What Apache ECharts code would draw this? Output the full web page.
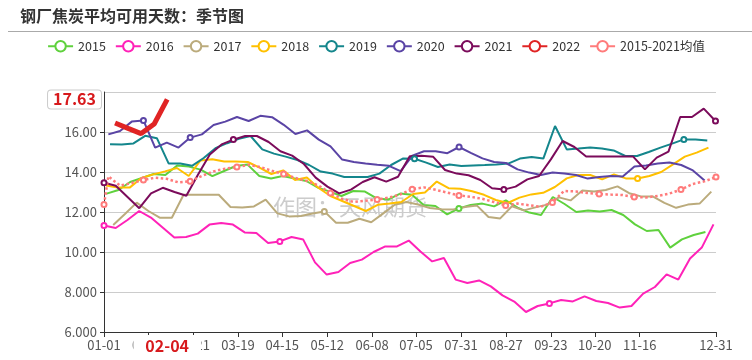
<!DOCTYPE html>
<html><head><meta charset="utf-8">
<script src="https://cdn.jsdelivr.net/npm/echarts@6/dist/echarts.min.js"></script>
<style>html,body{margin:0;padding:0;background:#fff}#c{width:752px;height:360px}</style>
</head><body><div id="c"></div>
<script>
// ---- axis ticks (day-of-year positions and their labels) ----
const tickDays = [0, 26.6, 53.2, 79.9, 106.3, 133.1, 159.9, 186.1, 212.9, 239.7, 266.5, 292.7, 319.5, 365];
const tickLabels = ['01-01','01-28','02-21','03-19','04-15','05-12','06-08','07-05','07-31','08-27','09-23','10-20','11-16','12-31'];

const names = ['2015','2016','2017','2018','2019','2020','2021','2022','2015-2021均值'];

// ---- weekly values per year, with first / last day-of-year of each series ----
const v2015 = [12.92,13.1,13.5,13.7,13.9,13.85,14.33,14.27,14.12,13.79,14.05,14.3,14.37,13.8,13.68,13.8,13.68,13.55,13.22,13.02,12.8,13.05,13.02,12.68,12.63,12.92,12.86,12.35,12.3,11.88,12.18,12.35,12.42,12.28,12.58,12.22,11.97,11.85,12.75,12.4,12.0,12.08,12.02,12.1,11.85,11.38,11.05,11.1,10.22,10.63,10.85,11.0];
const d2015 = [1.6, 358.7];
const v2016 = [11.32,11.2,11.6,12.05,11.72,11.22,10.72,10.75,10.92,11.37,11.45,11.37,10.98,10.95,10.45,10.53,10.75,10.62,9.48,8.87,9.0,9.45,9.62,10.0,10.28,10.28,10.57,10.03,9.53,9.7,8.62,8.45,8.58,8.28,7.83,7.52,7.0,7.3,7.43,7.6,7.53,7.78,7.55,7.45,7.22,7.3,7.92,8.25,8.88,8.62,9.68,10.22,11.38];
const d2016 = [0, 363.5];
const v2017 = [11.35,11.9,12.47,12.05,11.71,11.71,12.86,12.86,12.86,12.86,12.25,12.22,12.28,12.62,11.93,11.78,11.8,11.93,12.03,11.46,11.46,11.66,11.49,11.92,12.36,12.5,12.37,12.2,12.14,12.12,12.25,12.33,11.75,11.68,12.29,12.08,12.23,12.37,12.73,12.58,13.07,13.03,13.1,13.28,12.94,12.78,12.78,12.46,12.21,12.37,12.42,13.02];
const d2017 = [5.5, 362.2];
const v2018 = [13.32,13.23,13.22,13.7,13.88,14.03,14.2,13.8,14.58,14.64,14.52,14.52,14.5,14.22,13.9,14.08,13.6,13.73,13.2,12.8,12.55,12.3,12.05,12.36,12.42,12.5,12.9,12.97,13.52,13.19,13.16,13.04,12.86,12.6,12.45,12.72,12.88,12.96,13.25,13.68,13.85,13.85,13.63,13.88,13.68,13.68,13.8,14.0,14.38,14.77,14.97,15.22];
const d2018 = [1.2, 360.5];
const v2019 = [15.39,15.38,15.43,15.81,15.69,14.43,14.43,14.31,14.7,15.19,15.44,15.66,15.8,15.13,14.92,14.77,14.6,14.35,14.02,13.92,13.75,13.75,13.75,13.92,14.35,14.67,14.66,14.47,14.25,14.38,14.3,14.33,14.35,14.38,14.42,14.67,14.75,14.67,16.3,15.13,15.17,15.22,15.17,15.08,14.8,14.8,15.0,15.22,15.42,15.63,15.63,15.58];
const d2019 = [3.6, 359.8];
const v2020 = [15.88,16.05,16.52,16.58,15.22,15.47,15.22,15.72,15.88,16.35,16.52,16.75,16.55,16.81,16.74,16.36,15.9,16.08,15.62,15.28,14.62,14.5,14.42,14.36,14.31,14.04,14.82,15.04,15.04,14.94,15.25,14.96,14.68,14.5,14.45,14.13,13.97,13.85,13.97,13.92,13.85,13.67,13.75,13.8,13.78,14.28,14.33,14.42,14.47,14.35,14.08,13.58];
const d2020 = [2.6, 358.2];
const v2021 = [13.46,13.31,12.75,12.19,12.93,13.21,13.0,12.81,13.88,14.88,15.38,15.62,15.8,15.8,15.5,15.04,14.82,14.4,13.72,13.27,12.93,13.12,13.5,13.74,13.52,13.76,14.79,14.81,14.76,14.1,13.92,13.84,13.6,13.19,13.12,13.27,13.63,13.8,14.63,15.55,15.25,14.77,14.77,14.77,14.77,14.77,14.13,14.72,15.02,16.75,16.75,17.17,16.55];
const d2021 = [0, 364.7];
const v2022 = [16.45,16.18,15.92,16.4,17.63];
const d2022 = [6.6, 37.7];
const lastDate2022 = '02-04';
const avgFirst = 12.37; // value on 01-01
const vAvg = [13.78,13.32,13.45,13.6,13.71,13.66,13.48,13.54,13.8,14.03,14.17,14.25,14.36,14.25,14.06,13.9,13.7,13.55,13.32,12.95,12.66,12.5,12.56,12.62,12.72,12.88,13.14,13.23,13.11,12.97,12.83,12.76,12.66,12.5,12.33,12.42,12.34,12.26,12.48,13.05,13.03,12.95,12.9,12.87,12.85,12.75,12.73,12.8,12.92,13.12,13.4,13.53,13.75];
const dAvg = [2.6, 365];

// which points carry a hollow marker (index into each series)
const marks = {
  '2015':[30], '2016':[0,15,38], '2017':[18], '2018':[45], '2019':[26,49],
  '2020':[3,7,30], '2021':[0,11,34,52], '2022':[],
  '2015-2021均值':[0,4,8,12,16,20,24,27,31,35,39,43,46,50,53]
};
const colors = ['#5fd13d','#ff22b8','#bbab7c','#ffc000','#14868c','#5a44a5','#7b0b5b','#e02424','#ff7b7b'];

function build(vals, range) {
  const n = vals.length, step = (range[1] - range[0]) / (n - 1);
  return vals.map((v, i) => [range[0] + i * step, v]);
}
const datas = [
  build(v2015, d2015), build(v2016, d2016), build(v2017, d2017), build(v2018, d2018),
  build(v2019, d2019), build(v2020, d2020), build(v2021, d2021), build(v2022, d2022),
  [[0, avgFirst]].concat(build(vAvg, dAvg))
];

const FONT = "'Noto Sans CJK SC','Noto Sans',sans-serif";
const series = names.map((nm, k) => {
  const mk = marks[nm];
  const isAvg = k === 8, is22 = k === 7;
  return {
    name: nm, type: 'line', data: datas[k],
    symbol: 'emptyCircle',
    symbolSize: (val, p) => mk.indexOf(p.dataIndex) >= 0 ? 5 : 0,
    showSymbol: true,
    itemStyle: { color: colors[k], borderWidth: 1.2 },
    lineStyle: { color: colors[k], width: is22 ? 5 : (isAvg ? 2.5 : 2), type: isAvg ? 'dotted' : 'solid' },
    emphasis: { disabled: true },
    silent: true,
    z: is22 ? 5 : 3
  };
});

const chart = echarts.init(document.getElementById('c'), null, { renderer: 'canvas' });
chart.setOption({
  animation: false,
  textStyle: { fontFamily: FONT },
  title: {
    text: '钢厂焦炭平均可用天数：季节图', left: 15, top: 3,
    textStyle: { fontSize: 16, fontWeight: 'bold', color: '#333', fontFamily: FONT }
  },
  graphic: [
    { type: 'line', shape: { x1: 8, y1: 31.5, x2: 752, y2: 31.5 }, style: { stroke: '#aaa', lineWidth: 1 }, silent: true },
    { type: 'text', left: 273, top: 196, z: 0, silent: true,
      style: { text: '作图：天风期货', fontSize: 22, fill: '#cccccc', fontFamily: FONT } }
  ],
  legend: {
    data: names, top: 35, left: 'center', itemWidth: 25, itemHeight: 13, itemGap: 9,
    lineStyle: { type: 'solid', width: 2 },
    textStyle: { fontSize: 12.5, color: '#333', fontFamily: FONT }
  },
  grid: { left: 104, right: 36, top: 92, bottom: 28 },
  xAxis: {
    type: 'value', min: 0, max: 365,
    axisLine: { show: true, lineStyle: { color: '#333' } },
    axisTick: { show: true, length: 5, customValues: tickDays, lineStyle: { color: '#333' } },
    splitLine: { show: false },
    axisLabel: {
      customValues: tickDays, fontSize: 13, color: '#555', margin: 7,
      formatter: v => { const i = tickDays.indexOf(v); return i >= 0 ? tickLabels[i] : ''; }
    },
    axisPointer: {
      show: true, type: 'none', status: 'show', value: d2022[1], triggerTooltip: false,
      label: {
        show: true, formatter: () => lastDate2022, color: '#d7191c', fontWeight: 'bold', fontSize: 16,
        backgroundColor: '#fff', padding: [3, 12, 3, 12], margin: 3, borderWidth: 0, shadowBlur: 0
      }
    }
  },
  yAxis: {
    type: 'value', min: 6, max: 18, interval: 2,
    axisLine: { show: true, lineStyle: { color: '#333' } },
    axisTick: { show: true, length: 4, lineStyle: { color: '#333' } },
    splitLine: { show: true, lineStyle: { color: '#ccc' } },
    axisLabel: { fontSize: 13, color: '#555', margin: 7, showMaxLabel: false,
      formatter: v => v.toPrecision(4) },
    axisPointer: {
      show: true, type: 'none', status: 'show', value: v2022[v2022.length - 1], triggerTooltip: false,
      label: {
        show: true, formatter: p => Number(p.value).toFixed(2), color: '#d7191c', fontWeight: 'bold', fontSize: 16,
        backgroundColor: '#fff', borderColor: '#ccc', borderWidth: 1, padding: [1, 5, 1, 5], margin: 3, shadowBlur: 0
      }
    }
  },
  series: series
});
</script></body></html>
